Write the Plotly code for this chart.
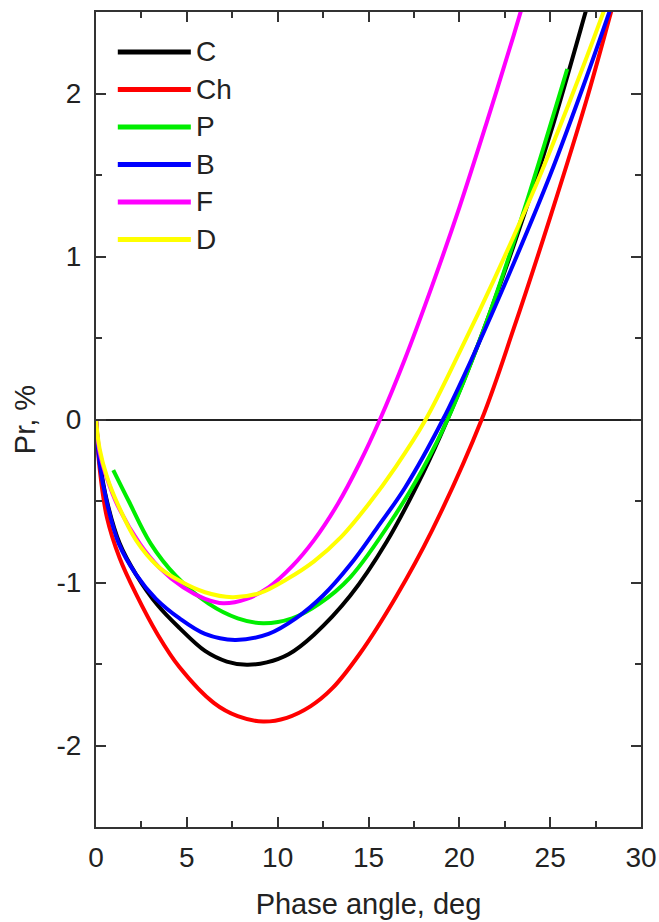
import plotly.graph_objects as go

# Phase-angle dependence of polarization for six samples
names = ["C", "Ch", "P", "B", "F", "D"]
colors = ["#000000", "#ff0000", "#00ee00", "#0000ff", "#ff00ff", "#ffff00"]

c_x = [0, 0.2, 0.6, 1.3, 2.2, 3.4, 4.6, 6.0, 7.2, 8.3, 9.4, 10.6, 12.0, 14.0, 16.0, 18.0, 19.35, 21.0, 23.0, 25.0, 27.0, 28.0]
c_y = [0, -0.25, -0.5, -0.76, -0.95, -1.14, -1.28, -1.42, -1.485, -1.505, -1.49, -1.44, -1.32, -1.08, -0.75, -0.33, 0, 0.45, 1.07, 1.75, 2.52, 2.92]

ch_x = [0, 0.2, 0.6, 1.3, 2.2, 3.4, 4.6, 6.5, 7.8, 9.2, 10.5, 11.8, 13.0, 14.5, 16.5, 18.5, 21.23, 23.0, 25.0, 27.0, 28.5, 29.5]
ch_y = [0, -0.3, -0.6, -0.85, -1.07, -1.32, -1.52, -1.74, -1.82, -1.853, -1.83, -1.76, -1.65, -1.44, -1.09, -0.68, 0, 0.56, 1.24, 1.96, 2.56, 2.96]

p_x = [0.95, 1.8, 3.0, 4.4, 6.2, 7.8, 9.2, 10.8, 12.3, 13.98, 16.5, 18.0, 19.35, 21.5, 23.55, 25.94]
p_y = [-0.31, -0.50, -0.76, -0.96, -1.13, -1.22, -1.25, -1.22, -1.13, -0.97, -0.58, -0.30, 0, 0.6, 1.28, 2.15]

b_x = [0, 0.2, 0.6, 1.25, 2.2, 3.3, 4.6, 6.0, 7.65, 9.5, 11.0, 12.5, 14.0, 15.5, 17.0, 19.1, 21.0, 23.0, 25.0, 27.0, 29.0]
b_y = [0, -0.27, -0.51, -0.76, -0.95, -1.1, -1.22, -1.315, -1.352, -1.315, -1.22, -1.08, -0.89, -0.66, -0.42, 0, 0.45, 0.96, 1.5, 2.1, 2.74]

f_x = [0, 0.2, 0.6, 1.2, 2.4, 3.5, 4.8, 6.0, 7.0, 8.3, 9.5, 10.8, 12.0, 13.3, 14.5, 15.63, 17.0, 18.5, 20.0, 21.5, 23.0, 24.0]
f_y = [0, -0.2, -0.36, -0.53, -0.76, -0.91, -1.03, -1.10, -1.127, -1.10, -1.03, -0.9, -0.74, -0.52, -0.27, 0, 0.37, 0.82, 1.3, 1.82, 2.36, 2.74]

d_x = [0, 0.2, 0.6, 1.2, 2.2, 3.4, 4.6, 6.0, 7.5, 9.0, 10.5, 12.0, 13.5, 15.0, 16.5, 18.15, 20.0, 22.0, 24.0, 26.0, 28.0, 29.0]
d_y = [0, -0.18, -0.35, -0.52, -0.74, -0.9, -0.99, -1.06, -1.09, -1.065, -0.98, -0.87, -0.72, -0.52, -0.29, 0, 0.41, 0.88, 1.38, 1.93, 2.52, 2.84]

x_ticks = [0, 5, 10, 15, 20, 25, 30]
y_ticks = [-2, -1, 0, 1, 2]
y_tick_text = ["-2", "-1", "0", "1", "2"]

series = [(c_x, c_y), (ch_x, ch_y), (p_x, p_y), (b_x, b_y), (f_x, f_y), (d_x, d_y)]

fig = go.Figure()
for name, color, (xs, ys) in zip(names, colors, series):
    fig.add_trace(go.Scatter(
        x=xs, y=ys, name=name, mode="lines",
        line=dict(color=color, width=4, shape="spline", smoothing=1.0),
        showlegend=False,
    ))

font_family = "Arial, Liberation Sans, sans-serif"
axis_color = "#333333"
text_color = "#222222"

# Legend drawn as line samples with labels inside the plot area
row_top = 0.951
row_step = 0.046
for i, (name, color) in enumerate(zip(names, colors)):
    yy = row_top - i * row_step
    fig.add_shape(type="line", xref="paper", yref="paper",
                  x0=0.040, x1=0.174, y0=yy, y1=yy,
                  line=dict(color=color, width=5))
    fig.add_annotation(xref="paper", yref="paper", x=0.180, y=yy,
                       text=name, showarrow=False, xanchor="left", yanchor="middle",
                       font=dict(family=font_family, size=28, color=text_color))

common = dict(
    showline=True, linecolor=axis_color, linewidth=2, mirror="ticks",
    ticks="inside", ticklen=10, tickwidth=1.5, tickcolor=axis_color,
    showgrid=False, automargin=False,
    tickfont=dict(family=font_family, size=28, color=text_color),
)

fig.update_xaxes(
    range=[0, 30], tickvals=x_ticks, zeroline=False, ticklabelstandoff=4,
    minor=dict(ticks="inside", ticklen=6, tickwidth=1.5, tickcolor=axis_color, dtick=2.5, showgrid=False),
    title=dict(text="Phase angle, deg", font=dict(family=font_family, size=29, color=text_color), standoff=22),
    **common,
)
fig.update_yaxes(
    range=[-2.5, 2.5], tickvals=y_ticks, ticktext=y_tick_text, ticklabelstandoff=7,
    zeroline=True, zerolinecolor=text_color, zerolinewidth=1.5,
    minor=dict(ticks="inside", ticklen=6, tickwidth=1.5, tickcolor=axis_color, dtick=0.5, showgrid=False),
    title=dict(text="Pr, %", font=dict(family=font_family, size=29, color=text_color), standoff=12),
    **common,
)

fig.update_layout(
    width=659, height=922,
    margin=dict(l=96, r=18, t=12, b=95),
    plot_bgcolor="white", paper_bgcolor="white",
)

fig.write_html("out.html")
